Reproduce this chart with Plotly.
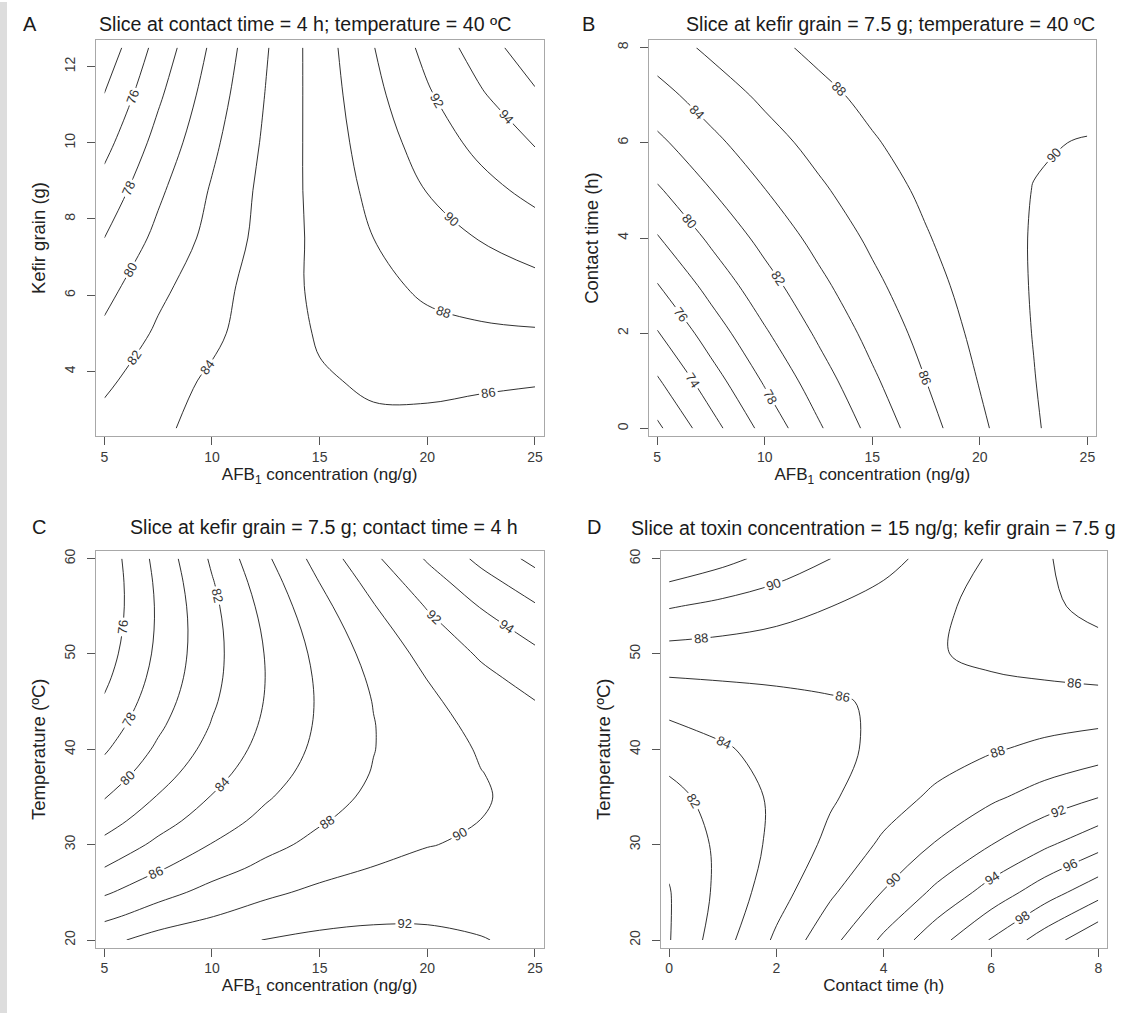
import plotly.graph_objects as go

# ---------------- data ----------------
# Panel A: slice at contact time = 4 h; temperature = 40 ºC
afb1_conc = [5, 7.5, 10, 12.5, 15, 17.5, 20, 22.5, 25]
kefir_grain = [2.5, 3.75, 5, 6.25, 7.5, 8.75, 10, 11.25, 12.5]
removal_a = [
    [82.7, 83.7, 84.6, 85.3, 85.6, 85.75, 85.6, 85.2, 84.6],
    [81.6, 83.2, 84.3, 85.1, 85.85, 86.2, 86.35, 86.3, 86.2],
    [80.4, 82.3, 83.6, 85.1, 86.15, 87.0, 87.5, 87.7, 87.8],
    [79.3, 81.5, 83.2, 85.0, 86.4, 87.5, 88.35, 88.9, 89.4],
    [78.0, 80.5, 82.6, 84.7, 86.5, 88.0, 89.2, 90.1, 91.0],
    [76.74, 79.64, 82.19, 84.57, 86.65, 88.49, 90.06, 91.36, 92.56],
    [75.39, 78.66, 81.58, 84.32, 86.77, 88.97, 90.90, 92.57, 94.14],
    [74.05, 77.68, 80.96, 84.07, 86.88, 89.46, 91.75, 93.79, 95.72],
    [72.7, 76.7, 80.35, 83.82, 87.0, 89.94, 92.6, 95.0, 97.3],
]

# Panel B: slice at kefir grain = 7.5 g; temperature = 40 ºC
contact_time_b = [0, 1, 2, 3, 4, 5, 6, 7, 8]
removal_b = [
    [69.60, 73.23, 76.62, 79.74, 82.62, 85.24, 87.62, 89.73, 91.60],
    [71.77, 75.12, 78.22, 81.06, 83.66, 86.00, 88.10, 89.93, 91.52],
    [73.86, 76.93, 79.76, 82.32, 84.63, 86.69, 88.51, 90.06, 91.36],
    [75.89, 78.68, 81.22, 83.50, 85.54, 87.31, 88.85, 90.12, 91.14],
    [77.85, 80.36, 82.62, 84.62, 86.37, 87.87, 89.12, 90.11, 90.85],
    [79.74, 81.97, 83.95, 85.67, 87.14, 88.35, 89.33, 90.03, 90.50],
    [81.56, 83.50, 85.21, 86.64, 87.84, 88.76, 89.46, 89.88, 90.07],
    [83.31, 84.97, 86.40, 87.55, 88.46, 89.11, 89.52, 89.66, 89.57],
    [85.00, 86.38, 87.52, 88.40, 89.03, 89.39, 89.52, 89.39, 89.01],
]

# Panel C: slice at kefir grain = 7.5 g; contact time = 4 h
temperature = [20, 22.5, 25, 27.5, 30, 32.5, 35, 37.5, 40, 42.5, 45, 47.5, 50, 52.5, 55, 57.5, 60]
removal_c = [
    [89.49, 90.72, 91.40, 92.05, 92.45, 92.60, 92.50, 92.10, 91.50],
    [87.55, 88.95, 89.95, 90.80, 91.35, 91.66, 91.72, 91.52, 91.05],
    [85.74, 87.31, 88.61, 89.64, 90.40, 90.90, 91.13, 91.09, 90.78],
    [84.07, 85.81, 87.27, 88.47, 89.40, 90.07, 90.46, 90.59, 90.45],
    [82.54, 84.44, 86.08, 87.44, 88.54, 89.37, 89.94, 90.23, 90.26],
    [81.14, 83.21, 85.01, 86.55, 87.82, 88.81, 89.55, 90.01, 90.21],
    [79.88, 82.12, 84.09, 85.79, 87.23, 88.39, 89.29, 89.92, 90.29],
    [78.75, 81.16, 83.30, 85.17, 86.77, 88.10, 89.17, 89.97, 90.50],
    [77.76, 80.34, 82.64, 84.68, 86.45, 87.95, 89.19, 90.15, 90.85],
    [76.91, 79.65, 82.12, 84.33, 86.27, 87.94, 89.34, 90.47, 91.34],
    [76.19, 79.10, 81.74, 84.11, 86.22, 88.06, 89.63, 90.93, 91.96],
    [75.61, 78.68, 81.49, 84.03, 86.31, 88.31, 90.05, 91.52, 92.72],
    [75.16, 78.40, 81.38, 84.09, 86.53, 88.70, 90.61, 92.25, 93.62],
    [74.85, 78.26, 81.40, 84.28, 86.89, 89.23, 91.31, 93.11, 94.65],
    [74.67, 78.25, 81.56, 84.61, 87.39, 89.89, 92.14, 94.11, 95.81],
    [74.63, 78.38, 81.86, 85.07, 88.02, 90.69, 93.10, 95.24, 97.12],
    [74.73, 78.64, 82.29, 85.67, 88.78, 91.63, 94.20, 96.51, 98.55],
]

# Panel D: slice at toxin concentration = 15 ng/g; kefir grain = 7.5 g
contact_time_d = [0, 1, 2, 3, 4, 5, 6, 7, 8]
temperature_d = [20, 25, 30, 35, 40, 45, 50, 55, 60]
removal_d = [
    [79.90, 83.27, 86.35, 89.38, 92.36, 95.28, 98.14, 100.95, 103.70],
    [79.90, 82.63, 85.18, 87.67, 90.10, 92.48, 94.80, 97.07, 99.28],
    [80.45, 82.51, 84.51, 86.46, 88.35, 90.19, 91.97, 93.69, 95.36],
    [81.37, 82.89, 84.35, 85.76, 87.11, 88.40, 89.64, 90.82, 91.95],
    [82.81, 83.78, 84.70, 85.56, 86.37, 87.12, 87.82, 88.46, 89.04],
    [84.75, 85.18, 85.56, 85.88, 86.14, 86.35, 86.51, 86.61, 86.65],
    [87.20, 87.09, 86.92, 86.70, 86.42, 86.09, 85.70, 85.26, 84.76],
    [90.15, 89.50, 88.79, 88.03, 87.21, 86.34, 85.41, 84.42, 83.38],
    [93.77, 92.57, 91.32, 90.02, 88.66, 87.24, 85.77, 84.24, 82.66],
]

panel_letters = ["A", "B", "C", "D"]
panel_titles = [
    "Slice at contact time = 4 h; temperature = 40 ºC",
    "Slice at kefir grain = 7.5 g; temperature = 40 ºC",
    "Slice at kefir grain = 7.5 g; contact time = 4 h",
    "Slice at toxin concentration = 15 ng/g; kefir grain = 7.5 g",
]
x_titles = ["AFB<sub>1</sub> concentration (ng/g)", "AFB<sub>1</sub> concentration (ng/g)",
            "AFB<sub>1</sub> concentration (ng/g)", "Contact time (h)"]
y_titles = ["Kefir grain (g)", "Contact time (h)", "Temperature (ºC)", "Temperature (ºC)"]
contour_levels = [(74, 96), (70, 90), (76, 98), (80, 102)]

# ---------------- styling ----------------
W, H = 1122, 1013
FONT = "Liberation Sans, Arial, sans-serif"


def px_x(p):
    return p / W


def px_y(p):
    return 1 - p / H


# plot boxes in pixels (left, right, top, bottom)
boxes = [
    (95.7, 543.6, 38.0, 435.0),
    (648.6, 1096.0, 38.0, 435.0),
    (95.7, 543.6, 550.0, 947.5),
    (660.5, 1107.0, 550.0, 947.5),
]
x_ranges = [[4.6, 25.4], [4.6, 25.4], [4.6, 25.4], [-0.16, 8.16]]
y_ranges = [[2.3, 12.7], [-0.16, 8.16], [19.2, 60.8], [19.2, 60.8]]
x_ticks = [[5, 10, 15, 20, 25]] * 3 + [[0, 2, 4, 6, 8]]
y_ticks = [[4, 6, 8, 10, 12], [0, 2, 4, 6, 8], [20, 30, 40, 50, 60], [20, 30, 40, 50, 60]]

title_pos = [(305, 22), (890, 22), (324, 526), (873, 527)]
letter_pos = [(30, 22.5), (588.6, 22.5), (39, 526), (594, 526)]

panels = [
    (afb1_conc, kefir_grain, removal_a),
    (afb1_conc, contact_time_b, removal_b),
    (afb1_conc, temperature, removal_c),
    (contact_time_d, temperature_d, removal_d),
]

fig = go.Figure()
layout = dict(
    width=W, height=H,
    margin=dict(l=0, r=0, t=0, b=0),
    paper_bgcolor="white", plot_bgcolor="white",
    showlegend=False,
    annotations=[],
    shapes=[dict(type="rect", xref="paper", yref="paper", x0=0, x1=7 / W, y0=0, y1=1,
                 fillcolor="#dddddd", line=dict(width=0), layer="below")],
)

for i, (xs, ys, zs) in enumerate(panels):
    n = "" if i == 0 else str(i + 1)
    lo, hi = contour_levels[i]
    fig.add_trace(go.Contour(
        x=xs, y=ys, z=zs,
        xaxis="x" + n, yaxis="y" + n,
        autocontour=False,
        contours=dict(start=lo, end=hi, size=2, coloring="lines", showlabels=True,
                      labelfont=dict(family=FONT, size=13, color="#333333")),
        colorscale=[[0, "#1a1a1a"], [1, "#1a1a1a"]],
        line=dict(width=0.9, smoothing=1.0),
        showscale=False, hoverinfo="skip",
    ))
    l, r, t, b = boxes[i]
    common = dict(showline=True, mirror=True, linecolor="#a8a8a8", linewidth=1,
                  ticks="outside", ticklen=8, tickwidth=1, tickcolor="#555555",
                  showgrid=False, zeroline=False,
                  tickfont=dict(family=FONT, size=14, color="#3a3a3a"))
    layout["xaxis" + n] = dict(common, domain=[px_x(l), px_x(r)], range=x_ranges[i],
                               tickvals=x_ticks[i], anchor="y" + n,
                               title=dict(text=x_titles[i], standoff=2,
                                          font=dict(family=FONT, size=17, color="#222222")))
    layout["yaxis" + n] = dict(common, domain=[px_y(b), px_y(t)], range=y_ranges[i],
                               tickvals=y_ticks[i], anchor="x" + n, tickangle=-90,
                               ticklabelstandoff=6,
                               title=dict(text=y_titles[i], standoff=11,
                                          font=dict(family=FONT, size=18.5, color="#222222")))
    tx, ty = title_pos[i]
    layout["annotations"].append(dict(text=panel_titles[i], xref="paper", yref="paper",
                                      x=px_x(tx), y=px_y(ty), xanchor="center", yanchor="middle",
                                      showarrow=False,
                                      font=dict(family=FONT, size=19.6, color="#1a1a1a")))
    lx, ly = letter_pos[i]
    layout["annotations"].append(dict(text=panel_letters[i], xref="paper", yref="paper",
                                      x=px_x(lx), y=px_y(ly), xanchor="center", yanchor="middle",
                                      showarrow=False,
                                      font=dict(family=FONT, size=20, color="#1a1a1a")))

fig.update_layout(**layout)
fig.write_html("out.html",
               config={"displayModeBar": False},
               post_script="document.body.style.margin='0';document.body.style.overflow='hidden';")
